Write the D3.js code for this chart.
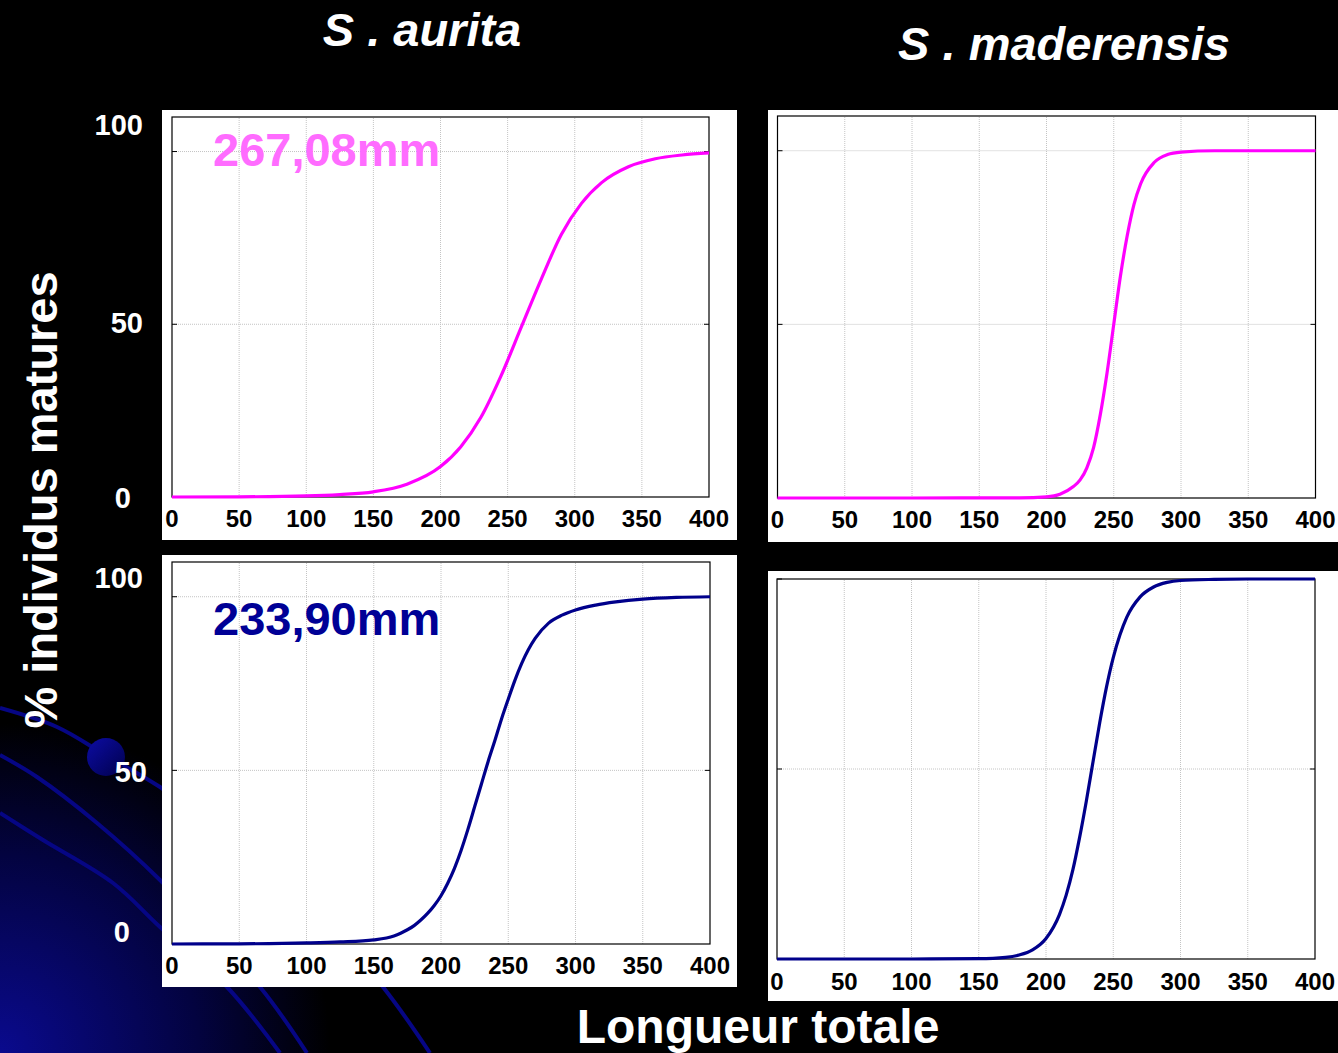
<!DOCTYPE html>
<html lang="fr">
<head>
<meta charset="utf-8">
<title>Taille de première maturité</title>
<script src="https://cdn.jsdelivr.net/npm/d3@7"></script>
<style>
  html, body { margin: 0; padding: 0; background: #000; }
  svg { display: block; }
  text { font-family: "Liberation Sans", Arial, sans-serif; font-weight: bold; }
  .tick-label { font-size: 24px; fill: #000; }
  .y-label { font-size: 29px; fill: #fff; }
  .grid { stroke: #c4c4c4; stroke-width: 1; stroke-dasharray: 1,1; }
</style>
</head>
<body>
<svg width="1338" height="1053"></svg>
<script>
// values (% mature by total length, mm)
const speciesTitles = ["S . aurita", "S . maderensis"];
const l50Labels = ["267,08mm", "233,90mm"];
const xTickValues = [0, 50, 100, 150, 200, 250, 300, 350, 400];
const yTickValues = [50, 100];
const yTickLabels = ["100", "50", "0"];

const aurTopX = [0, 50, 100, 125, 150, 175, 200, 215, 230, 245, 260, 275, 290, 305, 320, 340, 360, 380, 400];
const aurTopY = [0, 0.05, 0.3, 0.7, 1.5, 3.7, 8.8, 14.5, 23, 35, 49, 63, 76, 85, 91, 95.6, 97.9, 99, 99.6];

const madTopX = [0, 100, 180, 200, 210, 220, 225, 230, 235, 240, 245, 250, 255, 260, 265, 270, 280, 290, 300, 325, 400];
const madTopY = [0, 0, 0.05, 0.35, 1.1, 3.3, 5.2, 8.7, 14.5, 24, 36, 50, 64, 75.5, 84.5, 90.5, 96.6, 98.9, 99.6, 100, 100];

const aurBotX = [0, 50, 100, 125, 150, 165, 170, 175, 180, 185, 190, 195, 200, 205, 210, 215, 220, 225, 230, 235,
                 240, 245, 250, 255, 260, 265, 270, 280, 290, 300, 315, 330, 350, 375, 400];
const aurBotY = [0, 0.05, 0.3, 0.6, 1.2, 2.3, 3.1, 4.1, 5.3, 6.9, 8.8, 11.1, 13.9, 17.5, 21.8, 27, 33, 39.5, 46, 52.5,
                 58.5, 64.8, 70.5, 76, 80.8, 84.8, 88, 92.4, 94.7, 96.2, 97.6, 98.5, 99.3, 99.8, 100];

const madBotX = [0, 100, 150, 170, 180, 190, 200, 210, 215, 220, 225, 230, 235, 240, 245, 250, 255, 260, 270, 280, 290, 300, 325, 350, 400];
const madBotY = [0, 0, 0.1, 0.45, 1.05, 2.4, 5.4, 11.7, 16.8, 23.5, 32, 41.6, 52, 62.3, 71.6, 79.3, 85.3, 89.9, 95.3, 97.9, 99.1, 99.6, 99.9, 100, 100];

const svg = d3.select("svg");
const defs = svg.append("defs");

// slide background: blue glow and orbit lines, bottom-left
const glow = defs.append("radialGradient").attr("id", "glow")
    .attr("cx", 0).attr("cy", 1053).attr("r", 330).attr("gradientUnits", "userSpaceOnUse");
glow.append("stop").attr("offset", "0%").attr("stop-color", "#0a0a8e");
glow.append("stop").attr("offset", "60%").attr("stop-color", "#030340");
glow.append("stop").attr("offset", "100%").attr("stop-color", "#000");
svg.append("circle").attr("cx", 0).attr("cy", 1053).attr("r", 330).attr("fill", "url(#glow)");

const orbits = [
    [[0, 708], [57, 727], [107, 756], [160, 787], [290, 880], [383, 987], [430, 1053]],
    [[0, 755], [37, 777], [97, 823], [160, 880], [260, 987], [307, 1053]],
    [[0, 813], [43, 840], [113, 883], [160, 927], [227, 987], [280, 1053]]
];
const orbitLine = d3.line().curve(d3.curveCatmullRom);
svg.selectAll("path.orbit").data(orbits).join("path")
    .attr("class", "orbit")
    .attr("d", orbitLine)
    .attr("fill", "none")
    .attr("stroke", "#060684")
    .attr("stroke-width", 4);

const dot = defs.append("linearGradient").attr("id", "dot")
    .attr("x1", 0).attr("y1", 0).attr("x2", 1).attr("y2", 1);
dot.append("stop").attr("offset", "0%").attr("stop-color", "#0c0ca4");
dot.append("stop").attr("offset", "100%").attr("stop-color", "#00004c");
svg.append("circle").attr("cx", 106).attr("cy", 757).attr("r", 19).attr("fill", "url(#dot)");

// panels
const panels = [
    { bg: [162, 110, 737, 540], x0: 172, x1: 709, yb: 497, yt: 117, yMax: 110,
      xs: aurTopX, ys: aurTopY, color: "#ff00ff", tickY: 527 },
    { bg: [768, 110, 1338, 542], x0: 777.5, x1: 1315.5, yb: 498, yt: 116, yMax: 110,
      xs: madTopX, ys: madTopY, color: "#ff00ff", tickY: 528 },
    { bg: [162, 555, 737, 987], x0: 172, x1: 710, yb: 944, yt: 562, yMax: 110,
      xs: aurBotX, ys: aurBotY, color: "#00008b", tickY: 974 },
    { bg: [768, 571, 1338, 1001], x0: 777, x1: 1315, yb: 959, yt: 579, yMax: 100,
      xs: madBotX, ys: madBotY, color: "#00008b", tickY: 990 }
];

panels.forEach(p => {
    const x = d3.scaleLinear().domain([0, 400]).range([p.x0, p.x1]);
    const y = d3.scaleLinear().domain([0, p.yMax]).range([p.yb, p.yt]);
    const g = svg.append("g");

    g.append("rect")
        .attr("x", p.bg[0]).attr("y", p.bg[1])
        .attr("width", p.bg[2] - p.bg[0]).attr("height", p.bg[3] - p.bg[1])
        .attr("fill", "#fff");

    g.selectAll("line.gx").data(xTickValues.slice(1, -1)).join("line")
        .attr("class", "grid")
        .attr("x1", d => x(d)).attr("x2", d => x(d))
        .attr("y1", p.yb).attr("y2", p.yt);
    g.selectAll("line.gy").data(yTickValues.filter(v => v < p.yMax)).join("line")
        .attr("class", "grid")
        .attr("x1", p.x0).attr("x2", p.x1)
        .attr("y1", d => y(d)).attr("y2", d => y(d));

    // small inward ticks on both sides
    [[p.x0, 5], [p.x1, -5]].forEach(([xx, len]) => {
        g.selectAll(null).data(yTickValues).join("line")
            .attr("x1", xx).attr("x2", xx + len)
            .attr("y1", d => y(d)).attr("y2", d => y(d))
            .attr("stroke", "#000").attr("stroke-width", 1);
    });

    g.append("rect")
        .attr("x", p.x0).attr("y", p.yt)
        .attr("width", p.x1 - p.x0).attr("height", p.yb - p.yt)
        .attr("fill", "none").attr("stroke", "#000").attr("stroke-width", 1.2);

    g.selectAll("text.tick-label").data(xTickValues).join("text")
        .attr("class", "tick-label")
        .attr("x", d => x(d)).attr("y", p.tickY)
        .attr("text-anchor", "middle")
        .text(d => d);

    const line = d3.line()
        .x(d => x(d[0])).y(d => y(d[1]))
        .curve(d3.curveMonotoneX);
    g.append("path")
        .datum(d3.zip(p.xs, p.ys))
        .attr("d", line)
        .attr("fill", "none")
        .attr("stroke", p.color)
        .attr("stroke-width", 3.2)
        .attr("stroke-linejoin", "round");
});

// L50 annotations
svg.append("text").attr("x", 213).attr("y", 166)
    .attr("font-size", 47).attr("fill", "#ff6cff").text(l50Labels[0]);
svg.append("text").attr("x", 213).attr("y", 635)
    .attr("font-size", 47).attr("fill", "#000096").text(l50Labels[1]);

// white y labels to the left of the left panels
const yLabelPos = [
    [[143, 135], [143, 333], [131, 508]],
    [[143, 588], [147, 782], [130, 942]]
];
yLabelPos.forEach(set => {
    svg.selectAll(null).data(set).join("text")
        .attr("class", "y-label")
        .attr("text-anchor", "end")
        .attr("x", d => d[0]).attr("y", d => d[1])
        .text((d, i) => yTickLabels[i]);
});

// titles
svg.append("text").attr("x", 422).attr("y", 46)
    .attr("text-anchor", "middle").attr("font-size", 47).attr("font-style", "italic")
    .attr("fill", "#fff").text(speciesTitles[0]);
svg.append("text").attr("x", 1064).attr("y", 60)
    .attr("text-anchor", "middle").attr("font-size", 47).attr("font-style", "italic")
    .attr("fill", "#fff").text(speciesTitles[1]);

svg.append("text").attr("x", 758).attr("y", 1043)
    .attr("text-anchor", "middle").attr("font-size", 48)
    .attr("fill", "#fff").text("Longueur totale");

svg.append("text")
    .attr("transform", "translate(57,500) rotate(-90)")
    .attr("text-anchor", "middle").attr("font-size", 47)
    .attr("fill", "#fff").text("% individus matures");
</script>
</body>
</html>
